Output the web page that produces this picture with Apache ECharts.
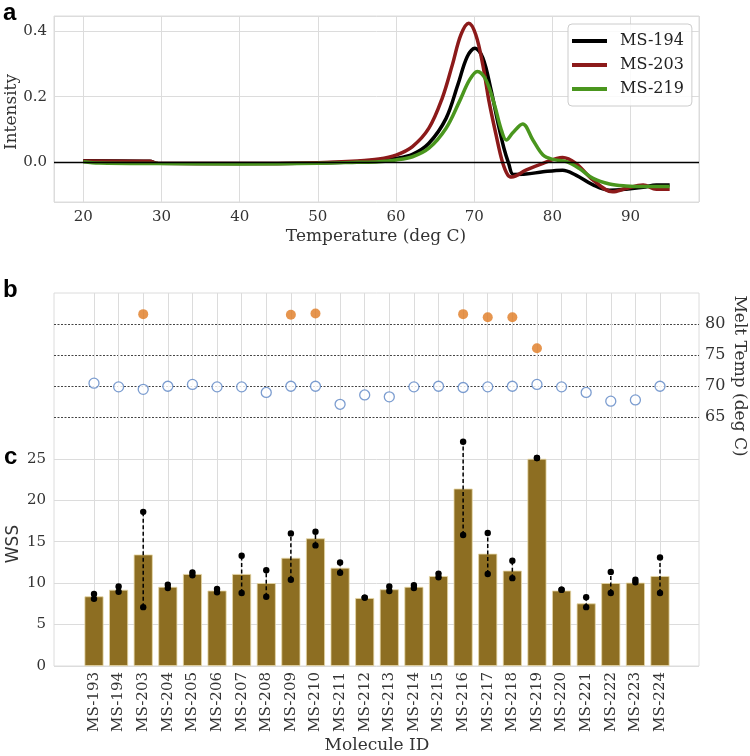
<!DOCTYPE html>
<html>
<head>
<meta charset="utf-8">
<script src="https://cdn.jsdelivr.net/npm/echarts@6/dist/echarts.min.js"></script>
<style>html,body{margin:0;padding:0;background:#fff}#c{width:750px;height:756px}</style>
</head>
<body>
<div id="c"></div>
<script>
// ---- Panel a: melt curves ----
const tempBlack = [20, 28.5, 29.5, 40, 50, 55, 57.8, 60, 62.1, 64.2, 66.4, 67.9, 69.1, 70.1, 71.1, 72.1, 73.0, 73.8, 74.4, 75.0, 76.6, 78.8, 81.3, 83.0, 85.2, 87.3, 89.4, 91.6, 93.3, 95];
const valBlack  = [0.005, 0.003, -0.003, -0.004, -0.002, 0.002, 0.007, 0.012, 0.024, 0.058, 0.134, 0.236, 0.322, 0.348, 0.318, 0.226, 0.124, 0.043, -0.003, -0.037, -0.036, -0.029, -0.024, -0.039, -0.069, -0.085, -0.082, -0.076, -0.069, -0.069];
const tempRed = [20, 28.5, 29.5, 40, 50, 55, 57.8, 60, 62.1, 64.2, 65.9, 67.2, 68.3, 69.3, 70.2, 71.1, 71.9, 72.8, 73.6, 74.3, 74.8, 76.6, 78.8, 81.3, 83.0, 85.2, 87.7, 89.4, 91.6, 93.3, 95];
const valRed  = [0.004, 0.003, -0.003, -0.004, -0.001, 0.004, 0.010, 0.022, 0.048, 0.104, 0.195, 0.297, 0.389, 0.424, 0.389, 0.297, 0.185, 0.083, 0.002, -0.039, -0.045, -0.024, -0.003, 0.015, -0.003, -0.054, -0.090, -0.080, -0.069, -0.082, -0.082];
const tempGreen = [20, 22, 29.5, 40, 50, 55, 57.8, 60, 62.1, 64.2, 66.4, 68.1, 69.4, 70.4, 71.5, 72.6, 73.4, 74.1, 74.9, 76.2, 77.5, 78.8, 80, 81.8, 83.4, 85.2, 87.3, 89.4, 91.6, 95];
const valGreen  = [0.002, -0.002, -0.004, -0.005, -0.003, 0.000, 0.002, 0.007, 0.017, 0.043, 0.104, 0.185, 0.251, 0.277, 0.251, 0.175, 0.104, 0.068, 0.089, 0.117, 0.068, 0.022, 0.009, 0.002, -0.018, -0.049, -0.066, -0.072, -0.074, -0.074];
const curveNames = ['MS-194', 'MS-203', 'MS-219'];

// ---- Panels b/c ----
const molecules = ['MS-193','MS-194','MS-203','MS-204','MS-205','MS-206','MS-207','MS-208','MS-209','MS-210','MS-211','MS-212','MS-213','MS-214','MS-215','MS-216','MS-217','MS-218','MS-219','MS-220','MS-221','MS-222','MS-223','MS-224'];
const wss   = [8.4, 9.2, 13.45, 9.55, 11.1, 9.1, 11.1, 10.0, 13.05, 15.4, 11.85, 8.2, 9.25, 9.55, 10.85, 21.4, 13.55, 11.5, 25.0, 9.1, 7.55, 10.0, 10.05, 10.85];
const wssHi = [8.7, 9.6, 18.6, 9.8, 11.3, 9.3, 13.3, 11.55, 16.0, 16.2, 12.5, 8.25, 9.6, 9.75, 11.15, 27.05, 16.05, 12.7, 25.1, 9.2, 8.3, 11.35, 10.4, 13.1];
const wssLo = [8.1, 8.95, 7.1, 9.4, 10.95, 8.9, 8.8, 8.35, 10.4, 14.55, 11.25, 8.25, 9.05, 9.4, 10.7, 15.8, 11.1, 10.6, 25.1, 9.2, 7.1, 8.8, 10.1, 8.8];
const meltTemp1 = [70.5, 69.9, 69.5, 70.0, 70.3, 69.9, 69.9, 69.0, 70.0, 70.0, 67.1, 68.6, 68.3, 69.9, 70.0, 69.8, 69.9, 70.0, 70.3, 69.9, 69.0, 67.6, 67.8, 70.0];
const meltTemp2 = [null, null, 81.6, null, null, null, null, null, 81.5, 81.7, null, null, null, null, null, 81.6, 81.1, 81.1, 76.1, null, null, null, null, null];
const wssTicks = [0, 5, 10, 15, 20, 25];
const meltTicks = [65, 70, 75, 80];

const SERIF = 'DejaVu Serif';
const GRID = '#dcdcdc';
const pairs = (t, v) => t.map((x, i) => [x, v[i]]);

const chart = echarts.init(document.getElementById('c'), null, {renderer: 'canvas'});
const wssColors = [];
for (let v = 0; v <= 45; v += 5) wssColors.push(wssTicks.includes(v) ? GRID : 'rgba(0,0,0,0)');
const meltColors = [];
for (let v = 25; v <= 85; v += 5) meltColors.push(meltTicks.includes(v) ? '#444' : 'rgba(0,0,0,0)');

const option = {
  animation: false,
  backgroundColor: '#fff',
  textStyle: {fontFamily: SERIF},
  grid: [
    {left: 54, right: 51, top: 16, bottom: 554, show: true, borderColor: GRID, borderWidth: 1},
    {left: 54, right: 51, top: 293, bottom: 90, show: true, borderColor: GRID, borderWidth: 1},
    {left: 94, right: 90, top: 293, bottom: 90}
  ],
  legend: {
    data: curveNames, orient: 'vertical', left: 568, top: 24,
    icon: 'rect', itemWidth: 35, itemHeight: 4, itemGap: 6, padding: [8, 8, 8, 4],
    borderColor: '#ccc', borderWidth: 1, borderRadius: 4, backgroundColor: 'rgba(255,255,255,0.85)',
    textStyle: {fontFamily: SERIF, fontSize: 16, color: '#222', padding: [0, 0, 0, 8], lineHeight: 18}
  },
  xAxis: [
    {gridIndex: 0, type: 'value', min: 16.25, max: 98.75, minInterval: 10, maxInterval: 10,
     axisLine: {show: false}, axisTick: {show: false},
     axisLabel: {fontFamily: SERIF, fontSize: 15, color: '#333', margin: 8, showMinLabel: false, showMaxLabel: false,
       formatter: v => (Math.abs(v % 10) < 1e-6 ? String(v) : '')},
     splitLine: {show: true, lineStyle: {color: GRID, width: 1}}},
    {gridIndex: 1, type: 'value', min: 0, max: 1, show: false},
    {gridIndex: 2, type: 'category', data: molecules, boundaryGap: false,
     axisLine: {show: false}, axisTick: {show: false},
     axisLabel: {interval: 0, rotate: 90, fontFamily: SERIF, fontSize: 15, color: '#333', margin: 6},
     splitLine: {show: true, interval: 0, lineStyle: {color: GRID, width: 1}}}
  ],
  yAxis: [
    {gridIndex: 0, type: 'value', min: -0.121, max: 0.446, minInterval: 0.2, maxInterval: 0.2,
     axisLine: {show: false}, axisTick: {show: false},
     axisLabel: {fontFamily: SERIF, fontSize: 15, color: '#333', margin: 7, showMinLabel: false, showMaxLabel: false,
       formatter: v => v.toFixed(1)},
     splitLine: {show: true, lineStyle: {color: GRID, width: 1}}},
    {gridIndex: 1, type: 'value', min: 0, max: 45, interval: 5, position: 'left',
     axisLine: {show: false}, axisTick: {show: false},
     axisLabel: {fontFamily: SERIF, fontSize: 15, color: '#333', margin: 8,
       formatter: v => (wssTicks.includes(v) ? String(v) : '')},
     splitLine: {show: true, lineStyle: {color: wssColors, width: 1}}},
    {gridIndex: 1, type: 'value', min: 25, max: 85, interval: 5, position: 'right',
     axisLine: {show: false}, axisTick: {show: false},
     axisLabel: {fontFamily: SERIF, fontSize: 16, color: '#333', margin: 6,
       formatter: v => (meltTicks.includes(v) ? String(v) : '')},
     splitLine: {show: true, lineStyle: {color: meltColors, width: 1, type: [2, 1.5]}}},
    {gridIndex: 2, type: 'value', min: 0, max: 45, show: false},
    {gridIndex: 2, type: 'value', min: 25, max: 85, show: false}
  ],
  series: [
    {name: 'MS-194', type: 'line', xAxisIndex: 0, yAxisIndex: 0, data: pairs(tempBlack, valBlack),
     showSymbol: false, symbol: 'none', smooth: 0.35, lineStyle: {color: '#000000', width: 3.5}, itemStyle: {color: '#000000'},
     markLine: {silent: true, symbol: ['none', 'none'], label: {show: false},
       lineStyle: {color: '#000', width: 1.3, type: 'solid'}, data: [{yAxis: 0}]}},
    {name: 'MS-203', type: 'line', xAxisIndex: 0, yAxisIndex: 0, data: pairs(tempRed, valRed),
     showSymbol: false, symbol: 'none', smooth: 0.35, lineStyle: {color: '#8c1a1a', width: 3.5}, itemStyle: {color: '#8c1a1a'}},
    {name: 'MS-219', type: 'line', xAxisIndex: 0, yAxisIndex: 0, data: pairs(tempGreen, valGreen),
     showSymbol: false, symbol: 'none', smooth: 0.35, lineStyle: {color: '#4a961e', width: 3.5}, itemStyle: {color: '#4a961e'}},
    {type: 'bar', xAxisIndex: 2, yAxisIndex: 3, data: wss, barWidth: 19, clip: false, z: 2,
     itemStyle: {color: '#8d6e22', borderColor: '#e6d7a6', borderWidth: 0.8}},
    {type: 'custom', xAxisIndex: 2, yAxisIndex: 3, clip: false, z: 4,
     data: molecules.map((m, i) => [i, wssLo[i], wssHi[i]]),
     encode: {x: 0, y: [1, 2]},
     renderItem: function (params, api) {
       const i = api.value(0);
       const pLo = api.coord([i, api.value(1)]);
       const pHi = api.coord([i, api.value(2)]);
       const ch = [];
       if (Math.abs(pLo[1] - pHi[1]) > 1) {
         ch.push({type: 'line', shape: {x1: pLo[0], y1: pLo[1], x2: pHi[0], y2: pHi[1]},
           style: {stroke: '#000', lineWidth: 1.5, lineDash: [4, 2.5]}});
       }
       ch.push({type: 'circle', shape: {cx: pLo[0], cy: pLo[1], r: 3.2}, style: {fill: '#000'}});
       ch.push({type: 'circle', shape: {cx: pHi[0], cy: pHi[1], r: 3.2}, style: {fill: '#000'}});
       return {type: 'group', children: ch};
     }},
    {type: 'scatter', xAxisIndex: 2, yAxisIndex: 4, data: meltTemp1, symbol: 'circle', symbolSize: 10, clip: false, z: 5,
     itemStyle: {color: '#ffffff', borderColor: '#5b84c4', borderWidth: 1.3}},
    {type: 'scatter', xAxisIndex: 2, yAxisIndex: 4, data: meltTemp2, symbol: 'circle', symbolSize: 10, clip: false, z: 5,
     itemStyle: {color: '#e07b22'}}
  ],
  graphic: [
    {type: 'text', x: 3, y: 13, style: {text: 'a', font: 'bold 24px "Liberation Sans"', fill: '#000', textVerticalAlign: 'middle'}},
    {type: 'text', x: 3, y: 290, style: {text: 'b', font: 'bold 24px "Liberation Sans"', fill: '#000', textVerticalAlign: 'middle'}},
    {type: 'text', x: 4, y: 457, style: {text: 'c', font: 'bold 24px "Liberation Sans"', fill: '#000', textVerticalAlign: 'middle'}},
    {type: 'text', x: 12, y: 112, rotation: Math.PI / 2,
     style: {text: 'Intensity', font: '17px "DejaVu Serif"', fill: '#333', textAlign: 'center', textVerticalAlign: 'middle'}},
    {type: 'text', x: 376, y: 237,
     style: {text: 'Temperature (deg C)', font: '17px "DejaVu Serif"', fill: '#333', textAlign: 'center', textVerticalAlign: 'middle'}},
    {type: 'text', x: 14, y: 544, rotation: Math.PI / 2,
     style: {text: 'WSS', font: '17px "DejaVu Sans"', fill: '#333', textAlign: 'center', textVerticalAlign: 'middle'}},
    {type: 'text', x: 739, y: 376, rotation: -Math.PI / 2,
     style: {text: 'Melt Temp (deg C)', font: '17px "DejaVu Serif"', fill: '#333', textAlign: 'center', textVerticalAlign: 'middle'}},
    {type: 'text', x: 377, y: 746,
     style: {text: 'Molecule ID', font: '17px "DejaVu Serif"', fill: '#333', textAlign: 'center', textVerticalAlign: 'middle'}}
  ]
};
chart.setOption(option);
</script>
</body>
</html>
